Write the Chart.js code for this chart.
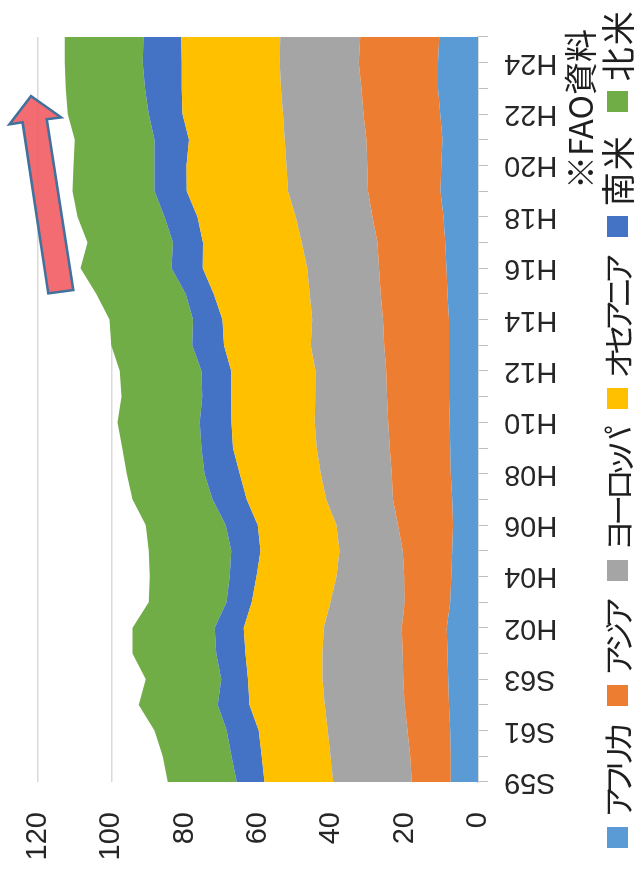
<!DOCTYPE html>
<html lang="ja">
<head>
<meta charset="utf-8">
<title>地域別 輸出量の推移</title>
<script src="https://cdn.jsdelivr.net/npm/chart.js@4.4.1/dist/chart.umd.min.js"></script>
<style>
  html, body { margin: 0; padding: 0; background: #fff; }
  body { width: 634px; height: 879px; overflow: hidden; position: relative; }
  /* the chart is laid out landscape and turned a quarter turn to stand upright */
  #stage {
    position: absolute; left: 0; top: 0;
    width: 879px; height: 634px;
    transform-origin: 0 0;
    transform: translate(0, 879px) rotate(-90deg);
    background: #fff;
  }
  #c { position: absolute; left: 0; top: 0; }
  #legend {
    position: absolute; left: 0; top: 598px; width: 879px; height: 38px;
    box-sizing: border-box; padding-left: 22px;
    display: flex; justify-content: center; align-items: center; gap: 22px;
    font-family: "Noto Sans CJK JP", sans-serif; line-height: 38px;
    font-feature-settings: "palt" 1; color: #1e1e1e; white-space: nowrap;
  }
  #legend .item { display: flex; align-items: center; flex: none; }
  #legend .sw { width: 21px; height: 21px; margin-right: 10px; flex: none; }
  #legend .kana { font-size: 31px; letter-spacing: -5px; }
  #legend .kanji { font-size: 34px; letter-spacing: 2px; }
  #note {
    position: absolute; right: 29px; top: 560px;
    font-family: "Noto Sans CJK JP", sans-serif; font-size: 33px; line-height: 38px;
    color: #1e1e1e; white-space: nowrap;
  }
</style>
</head>
<body>
<div id="stage">
  <canvas id="c" width="879" height="634"></canvas>
  <div id="legend"></div>
  <div id="note">※FAO資料</div>
</div>
<script>
// 年次（昭和59年〜平成25年）
const categories = ['S59','S60','S61','S62','S63','H01','H02','H03','H04','H05',
                    'H06','H07','H08','H09','H10','H11','H12','H13','H14','H15',
                    'H16','H17','H18','H19','H20','H21','H22','H23','H24','H25'];

// 地域別の値
const africa   = [7.4,7.4,7.6,7.9,8.1,8.3,8.5,7.6,7.3,7.0,6.8,7.0,7.4,7.6,7.7,7.9,7.9,7.9,7.9,8.3,8.6,8.9,9.4,10.2,10.0,9.7,10.3,10.9,10.9,10.6];
const asia     = [10.7,11.1,11.6,12.1,12.3,12.2,12.3,12.4,12.8,13.5,15.0,16.2,16.1,16.5,16.8,16.9,17.1,17.7,18.0,18.2,18.4,18.5,19.4,19.8,20.2,20.7,20.9,20.9,21.6,21.5];
const europe   = [21.4,21.7,21.8,21.8,22.0,21.9,21.3,20.2,18.5,17.3,16.8,18.2,19.4,19.9,20.0,19.6,19.3,20.0,19.3,19.4,19.6,20.7,20.9,21.8,22.0,22.3,22.0,21.9,21.6,21.8];
const oceania  = [18.7,18.8,18.8,20.5,20.3,21.0,21.8,21.5,21.8,21.5,21.5,21.7,22.1,22.8,22.7,22.9,23.0,23.7,24.5,26.2,28.5,26.9,26.8,27.6,27.3,26.1,27.4,27.1,26.7,27.0];
const southAm  = [7.6,8.2,8.7,8.7,7.3,8.0,7.9,6.9,7.3,8.0,8.7,9.3,9.6,8.6,8.7,7.9,8.1,8.6,8.0,7.6,8.5,8.2,9.0,8.8,8.7,9.4,9.2,10.0,10.6,10.3];
const northAm  = [18.8,18.8,19.7,21.5,20.6,22.8,22.4,21.2,21.8,22.5,21.8,21.8,21.2,21.6,22.4,22.0,22.3,22.1,22.8,24.4,24.8,23.3,23.7,22.4,22.1,21.8,22.1,21.6,21.3,21.5];

const seriesNames = ['アフリカ','アジア','ヨーロッパ','オセアニア','南米','北米'];
const seriesValues = [africa, asia, europe, oceania, southAm, northAm];
const seriesColors = ['#5B9BD5','#ED7D31','#A5A5A5','#FFC000','#4472C4','#70AD47'];

// value axis ticks
const valueMin = 0, valueMax = 120, valueStep = 20;

const TICK_FONT = { family: '"Liberation Sans", Arial, sans-serif', size: 29 };
const TEXT_COLOR = '#262626';
const GRID_COLOR = '#D9D9D9';

// legend built as HTML from the chart's own datasets;
// katakana names are set smaller and tighter than kanji names
const htmlLegend = {
  id: 'htmlLegend',
  afterUpdate(chart) {
    const box = document.getElementById('legend');
    box.innerHTML = '';
    chart.data.datasets.forEach(ds => {
      const item = document.createElement('span');
      item.className = 'item';
      const sw = document.createElement('span');
      sw.className = 'sw';
      sw.style.background = ds.backgroundColor;
      const tx = document.createElement('span');
      tx.className = /^[\u30A0-\u30FF]+$/.test(ds.label) ? 'kana' : 'kanji';
      tx.textContent = ds.label;
      item.appendChild(sw);
      item.appendChild(tx);
      box.appendChild(item);
    });
  }
};

// upward trend arrow, placed in axis units (category index, value)
const trendArrow = [
  [26.70, 121.9], [25.60, 127.8], [25.68, 124.2], [19.02, 117.2],
  [19.15, 110.4], [25.80, 117.6], [25.87, 113.7]
];
const arrowPlugin = {
  id: 'trendArrow',
  afterDraw(chart) {
    const { ctx, scales: { x, y } } = chart;
    ctx.save();
    ctx.beginPath();
    trendArrow.forEach(([i, v], k) => {
      const px = x.getPixelForValue(i), py = y.getPixelForValue(v);
      if (k === 0) ctx.moveTo(px, py); else ctx.lineTo(px, py);
    });
    ctx.closePath();
    ctx.fillStyle = 'rgba(242, 96, 102, 0.92)';
    ctx.fill();
    ctx.lineJoin = 'miter';
    ctx.lineWidth = 2.5;
    ctx.strokeStyle = '#41719C';
    ctx.stroke();
    ctx.restore();
  }
};

new Chart(document.getElementById('c'), {
  type: 'line',
  data: {
    labels: categories,
    datasets: seriesNames.map((name, k) => ({
      label: name,
      data: seriesValues[k],
      backgroundColor: seriesColors[k],
      borderColor: seriesColors[k],
      borderWidth: 0,
      pointRadius: 0,
      pointHoverRadius: 0,
      tension: 0,
      fill: k === 0 ? 'origin' : '-1'
    }))
  },
  options: {
    responsive: false,
    animation: false,
    devicePixelRatio: 1,
    layout: { padding: { top: 38, right: 37, left: 0, bottom: 0 } },
    plugins: {
      legend: { display: false },
      tooltip: { enabled: false }
    },
    scales: {
      x: {
        type: 'category',
        offset: false,
        afterFit(scale) {
          scale.height = 156;
          scale.paddingLeft = 0;
          scale.paddingRight = 0;
        },
        grid: {
          display: true, drawOnChartArea: false, drawTicks: true,
          tickLength: 10, color: '#BFBFBF', lineWidth: 1
        },
        border: { display: true, color: GRID_COLOR, width: 2 },
        ticks: {
          autoSkip: false, minRotation: 90, maxRotation: 90, padding: 16,
          font: TICK_FONT, color: TEXT_COLOR,
          callback(val, idx) { return idx % 2 === 0 ? this.getLabelForValue(val) : ''; }
        }
      },
      y: {
        stacked: true,
        min: valueMin, max: valueMax,
        afterFit(scale) {
          scale.width = 97;
          scale.paddingTop = 0;
          scale.paddingBottom = 0;
        },
        grid: { color: GRID_COLOR, lineWidth: 1.5, drawTicks: false },
        border: { display: false },
        ticks: { stepSize: valueStep, padding: 30, font: TICK_FONT, color: TEXT_COLOR }
      }
    }
  },
  plugins: [htmlLegend, arrowPlugin]
});
</script>
</body>
</html>
